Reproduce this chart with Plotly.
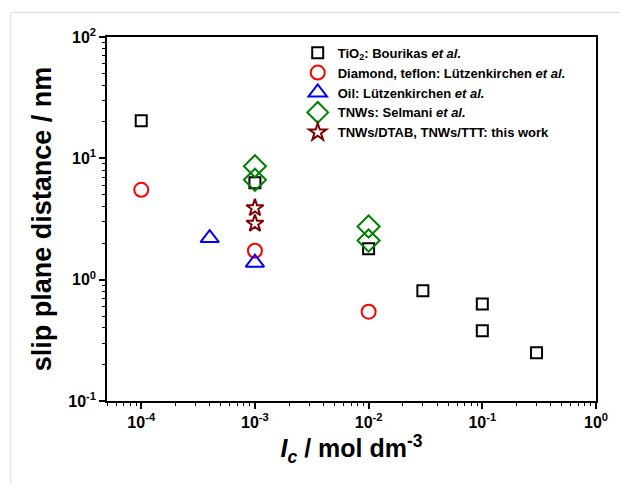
import plotly.graph_objects as go
import math

# ---- data ----
tio2_x = [1e-4, 1e-3, 1e-2, 0.03, 0.1, 0.1, 0.3]
tio2_y = [20.4, 6.3, 1.8, 0.81, 0.63, 0.38, 0.25]

diamond_x = [1e-4, 1e-3, 1e-2]
diamond_y = [5.5, 1.73, 0.545]

oil_x = [4e-4, 1e-3]
oil_y = [2.2, 1.38]

tnw_x = [1e-3, 1e-3, 1e-2, 1e-2]
tnw_y = [8.6, 6.65, 2.74, 2.1]

work_x = [1e-3, 1e-3]
work_y = [3.9, 2.9]

names = [
    "<b>TiO<sub>2</sub>: Bourikas <i>et al.</i></b>",
    "<b>Diamond, teflon: Lützenkirchen <i>et al.</i></b>",
    "<b>Oil: Lützenkirchen <i>et al.</i></b>",
    "<b>TNWs: Selmani <i>et al.</i></b>",
    "<b>TNWs/DTAB, TNWs/TTT: this work</b>",
]

x_ticks = [1e-4, 1e-3, 1e-2, 1e-1, 1]
x_ticktext = ["10<sup>-4</sup>", "10<sup>-3</sup>", "10<sup>-2</sup>", "10<sup>-1</sup>", "10<sup>0</sup>"]
y_ticks = [0.1, 1, 10, 100]
y_ticktext = ["10<sup>-1</sup>", "10<sup>0</sup>", "10<sup>1</sup>", "10<sup>2</sup>"]

FONT = "Liberation Sans, Arial, sans-serif"

fig = go.Figure()
series = [
    (tio2_x, tio2_y, "square-open", 11, "black"),
    (diamond_x, diamond_y, "circle-open", 14, "#ff0000"),
    (oil_x, oil_y, "triangle-up-open", 16, "#0000ff"),
    (tnw_x, tnw_y, "diamond-open", 17, "#008000"),
    (work_x, work_y, "star-open", 13, "#800000"),
]
for (xs, ys, sym, sz, col), nm in zip(series, names):
    fig.add_trace(go.Scatter(
        x=xs, y=ys, mode="markers", name=nm,
        marker=dict(symbol=sym, size=sz, color=col, line=dict(color=col, width=2)),
    ))

x_minor = [m * 10 ** e for e in range(-5, 0) for m in range(2, 10)]
y_minor = [m * 10 ** e for e in range(-1, 2) for m in range(2, 10)]

fig.update_xaxes(
    type="log", range=[math.log10(5e-5), 0],
    tickmode="array", tickvals=x_ticks, ticktext=["<b>%s</b>" % t for t in x_ticktext],
    ticks="outside", ticklen=6, tickwidth=1.5, tickcolor="black",
    minor=dict(tickmode="array", tickvals=x_minor, ticks="outside", ticklen=3, tickwidth=1.2, tickcolor="black"),
    showline=True, linecolor="black", linewidth=1.5, mirror=True,
    showgrid=False, zeroline=False,
    tickfont=dict(family=FONT, size=16, color="black"),
    title=dict(text="<b><i>I</i><sub><i>c</i></sub> / mol dm<sup>-3</sup></b>",
               font=dict(family=FONT, size=25, color="black"), standoff=10),
)
fig.update_yaxes(
    type="log", range=[-1, 2],
    tickmode="array", tickvals=y_ticks, ticktext=["<b>%s</b>" % t for t in y_ticktext],
    ticks="outside", ticklen=6, tickwidth=1.5, tickcolor="black",
    minor=dict(tickmode="array", tickvals=y_minor, ticks="outside", ticklen=3, tickwidth=1.2, tickcolor="black"),
    showline=True, linecolor="black", linewidth=1.5, mirror=True,
    showgrid=False, zeroline=False,
    tickfont=dict(family=FONT, size=16, color="black"),
    title=dict(text="<b>slip plane distance / nm</b>",
               font=dict(family=FONT, size=27, color="black"), standoff=9),
)

fig.update_layout(
    width=620, height=484,
    margin=dict(l=107, r=17, t=37, b=83),
    paper_bgcolor="white", plot_bgcolor="white",
    font=dict(family=FONT, color="black"),
    legend=dict(x=0.39, y=0.998, xanchor="left", yanchor="top",
                bgcolor="rgba(0,0,0,0)", font=dict(family=FONT, size=13, color="black"),
                tracegroupgap=0, itemsizing="trace"),
    shapes=[dict(type="rect", xref="paper", yref="paper",
                 x0=-0.197, x1=1.2, y0=-0.5, y1=1.067,
                 line=dict(color="#dddddd", width=1), layer="below")],
)

fig.write_html("out.html")
